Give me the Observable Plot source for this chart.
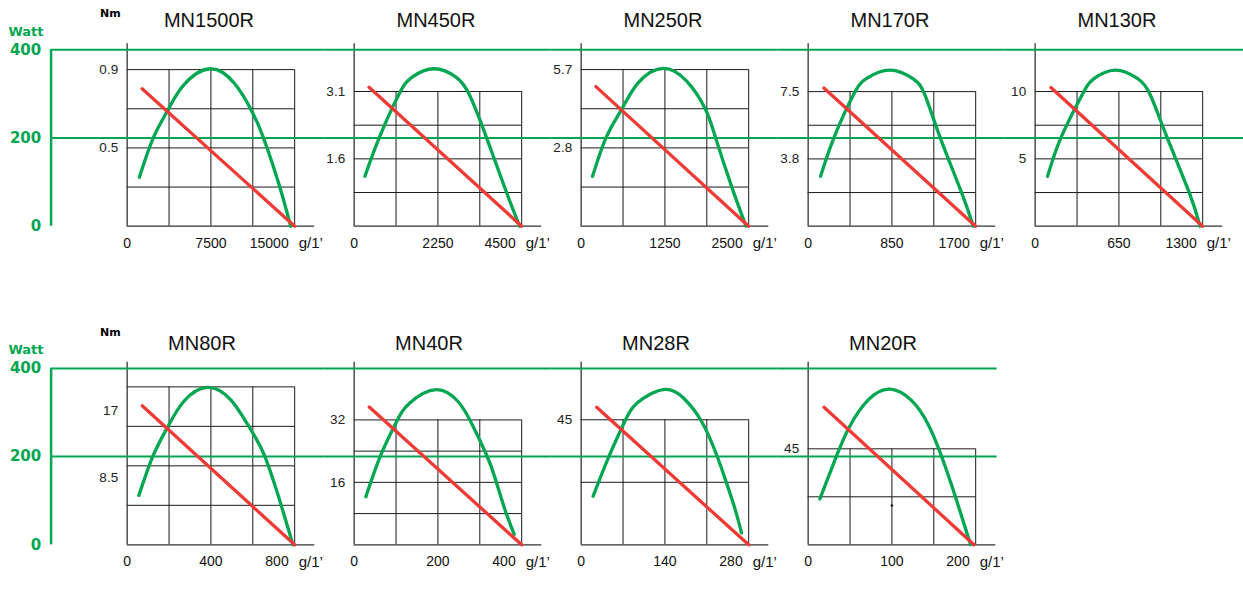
<!DOCTYPE html>
<html><head><meta charset="utf-8">
<script src="https://cdn.jsdelivr.net/npm/d3@7"></script>
<script src="https://cdn.jsdelivr.net/npm/@observablehq/plot@0.6"></script>
<style>
html,body{margin:0;padding:0;background:#fff;overflow:hidden;}
#chart{width:1243px;height:595px;}
</style></head><body><div id="chart"></div>
<script>
// ---------- data ----------
const panelNames = ["MN1500R","MN450R","MN250R","MN170R","MN130R","MN80R","MN40R","MN28R","MN20R"];
const panelRow   = [0,0,0,0,0,1,1,1,1];
const panelCol   = [0,1,2,3,4,0,1,2,3];
const speedMax   = [15000,4500,2500,1700,1300,800,400,280,200];
const speedMid   = [7500,2250,1250,850,650,400,200,140,100];
const speedUnit  = "g/1’";
const wattTicks  = [0,200,400];
// torque (Nm) that lines up with 400 W on each panel's secondary axis
const nmAt400W   = [1.014,4.06,6.42,9.83,13.1,22.34,45.2,63.5,82.7];
const nmGridTop  = [0.9,3.1,5.7,7.5,10,20,32,45,45];
const nmGridRows = [4,4,4,4,4,4,4,2,2];
const nmTickValues = [[0.9,0.45],[3.1,1.55],[5.7,2.85],[7.5,3.75],[10,5],[17,8.5],[32,16],[45],[45]];
const nmTickLabels = [["0.9","0.5"],["3.1","1.6"],["5.7","2.8"],["7.5","3.8"],["10","5"],["17","8.5"],["32","16"],["45"],["45"]];
// torque line: [speed, Nm] at start, speed at zero torque
const torqueStart = [[1340,0.79],[400,3.2],[220,5.08],[160,7.7],[122,10.3],[72,17.6],[36,35.3],[26,49.5],[19,64.5]];
const torqueEndSpeed = [15000,4500,2500,1700,1300,800,400,280,198];
// power curves: [speed, W]
const powerMN1500R = [[1095,111],[2370,202],[3705,266],[5055,320],[7425,357],[9600,324],[11055,266],[12180,202],[13665,89],[14640,0]];
const powerMN450R  = [[288,113],[680,202],[1197,298],[1557,338],[2147,357],[2736,338],[3096,298],[3551,202],[4091,77],[4446,0]];
const powerMN250R  = [[170,113],[375,202],[608,266],[850,325],[1215,358],[1575,329],[1853,266],[2003,202],[2250,88],[2460,0]];
const powerMN170R  = [[126,113],[264,202],[457,297],[593,335],[830,354],[1066,334],[1185,298],[1338,202],[1557,76],[1676,0]];
const powerMN130R  = [[96,113],[202,202],[363,297],[454,334],[621,354],[793,335],[893,298],[1023,202],[1196,76],[1280,0]];
const powerMN80R   = [[56,112],[124,202],[192,266],[272,326],[384,357],[496,328],[584,266],[656,202],[736,89],[792,0]];
const powerMN40R   = [[28,109],[63,202],[100,277],[132,321],[196,352],[248,325],[279,278],[317,202],[337,150],[360,80],[382,24]];
const powerMN28R   = [[20,110],[47,202],[72,277],[94,322],[137,352],[171,333],[202,278],[227,202],[243,140],[257,82],[268,27]];
const powerMN20R   = [[14,104],[34,202],[50,270],[72,329],[97,353],[123,328],[143,274],[159,202],[176,108],[194,0]];
const powerCurves = [powerMN1500R,powerMN450R,powerMN250R,powerMN170R,powerMN130R,powerMN80R,powerMN40R,powerMN28R,powerMN20R];
const strayDot = [{panel: 8, speed: 100, nm: 18.4}];

// ---------- layout constants ----------
const GREEN = "#00a651", RED = "#ef3b36", INK = "#1a1a1a";
const X_DOM = [-0.18, 1.175];
const WATT_AXIS_U = -0.454;
const FONT = "Liberation Sans, Arial, sans-serif";
const BOLD = "DejaVu Sans, sans-serif";

const panels = panelNames.map((name, i) => ({
  i, name, fx: panelCol[i], fy: panelRow[i], max: speedMax[i], k: 400 / nmAt400W[i]
}));
const lastCol = r => d3.max(panels.filter(p => p.fy === r), p => p.fx);

const gridV = [], gridH = [], wattLineRows = [], xTicksMid = [], xTicksEnd = [], xUnit = [], nmTicks = [], redRows = [], greenRows = [];
for (const p of panels) {
  const top = nmGridTop[p.i] * p.k;
  for (const f of [0.25, 0.5, 0.75, 1]) gridV.push({fx: p.fx, fy: p.fy, u: f, top});
  for (let r = 1; r <= nmGridRows[p.i]; r++) gridH.push({fx: p.fx, fy: p.fy, w: top * r / nmGridRows[p.i]});
  for (const w of wattTicks.filter(w => w > 0)) {
    wattLineRows.push({fx: p.fx, fy: p.fy, w,
      x1: p.fx === 0 ? WATT_AXIS_U : X_DOM[0],
      x2: p.fx === lastCol(p.fy) ? (p.fy === 0 ? 1.244 : 1.128) : X_DOM[1]});
  }
  xTicksMid.push({fx: p.fx, fy: p.fy, u: 0, label: "0"});
  xTicksMid.push({fx: p.fx, fy: p.fy, u: speedMid[p.i] / p.max, label: String(speedMid[p.i])});
  xTicksEnd.push({fx: p.fx, fy: p.fy, u: 1, label: String(p.max)});
  xUnit.push({fx: p.fx, fy: p.fy, u: 1, label: speedUnit});
  nmTickValues[p.i].forEach((v, j) => nmTicks.push({fx: p.fx, fy: p.fy, w: v * p.k, label: nmTickLabels[p.i][j]}));
  redRows.push({fx: p.fx, fy: p.fy, id: p.i, u: torqueStart[p.i][0] / p.max, w: torqueStart[p.i][1] * p.k});
  redRows.push({fx: p.fx, fy: p.fy, id: p.i, u: torqueEndSpeed[p.i] / p.max, w: 0});
  for (const [s, w] of powerCurves[p.i]) greenRows.push({fx: p.fx, fy: p.fy, id: p.i, u: s / p.max, w});
}
const firstCol = panels.filter(p => p.fx === 0);
const wattLabelRows = firstCol.flatMap(p => wattTicks.map(w => ({fx: p.fx, fy: p.fy, w})));
const titleRows = panels.map(p => ({fx: p.fx, fy: p.fy, name: p.name, w: p.fy === 0 ? 466 : 456}));
const dotRows = strayDot.map(d => ({fx: panels[d.panel].fx, fy: panels[d.panel].fy, u: d.speed / panels[d.panel].max, w: d.nm * panels[d.panel].k}));

const tickStyle = {fx: "fx", fy: "fy", x: "u", y: () => 0, text: "label", dy: 17, lineAnchor: "middle", fontSize: 14, fill: "#111"};
const titleStyle = {fx: "fx", fy: "fy", x: () => 0.5, y: "w", text: "name", textAnchor: "middle", lineAnchor: "middle", fontSize: 20, fill: "#111"};

const chart = Plot.plot({
  width: 1243, height: 595,
  marginTop: 5.2, marginBottom: 50.7, marginLeft: 96.5, marginRight: 11.5,
  style: {fontFamily: FONT, background: "white", overflow: "visible"},
  x: {domain: X_DOM, axis: null},
  y: {domain: [0, 500], axis: null},
  fx: {domain: [0,1,2,3,4], axis: null, padding: 0, round: false},
  fy: {domain: [0,1], axis: null, paddingInner: 0.3079, paddingOuter: 0, round: false},
  marks: [
    // grid
    Plot.ruleX(gridV, {fx: "fx", fy: "fy", x: "u", y1: 0, y2: "top", stroke: INK, strokeWidth: 1}),
    Plot.ruleY(gridH, {fx: "fx", fy: "fy", y: "w", x1: 0, x2: 1, stroke: INK, strokeWidth: 1}),
    // axes of each panel
    Plot.ruleX(panels, {fx: "fx", fy: "fy", x: () => 0, y1: 0, y2: 414, stroke: "#333", strokeWidth: 1.3}),
    Plot.ruleY(panels, {fx: "fx", fy: "fy", y: () => 0, x1: 0, x2: 1.12, stroke: "#333", strokeWidth: 1.3}),
    // watt reference lines and axis
    Plot.ruleY(wattLineRows, {fx: "fx", fy: "fy", y: "w", x1: "x1", x2: "x2", stroke: GREEN, strokeWidth: 2}),
    Plot.ruleX(firstCol, {fx: "fx", fy: "fy", x: () => WATT_AXIS_U, y1: () => 0, y2: () => 400, stroke: GREEN, strokeWidth: 2.5}),
    Plot.text(wattLabelRows, {fx: "fx", fy: "fy", x: () => WATT_AXIS_U - 0.059, y: "w", text: d => String(d.w), textAnchor: "end", lineAnchor: "middle", fill: GREEN, fontFamily: BOLD, fontWeight: "bold", fontSize: 15}),
    Plot.text(firstCol, {fx: "fx", fy: "fy", x: () => -0.604, y: () => 441, text: () => "Watt", textAnchor: "middle", lineAnchor: "middle", fill: GREEN, fontFamily: BOLD, fontWeight: "bold", fontSize: 13}),
    Plot.text(firstCol, {fx: "fx", fy: "fy", x: () => -0.1, y: () => 482, text: () => "Nm", textAnchor: "middle", lineAnchor: "middle", fill: "#000", fontFamily: BOLD, fontWeight: "bold", fontSize: 11}),
    // power curves
    Plot.line(greenRows, {fx: "fx", fy: "fy", x: "u", y: "w", z: "id", stroke: GREEN, strokeWidth: 3.3, curve: "natural"}),
    // torque lines
    Plot.line(redRows, {fx: "fx", fy: "fy", x: "u", y: "w", z: "id", stroke: RED, strokeWidth: 3.3}),
    Plot.dot(dotRows, {fx: "fx", fy: "fy", x: "u", y: "w", r: 1.3, fill: INK}),
    // texts
    Plot.text(titleRows.filter(d => d.fy === 0), {...titleStyle, dx: -2}),
    Plot.text(titleRows.filter(d => d.fy === 1), {...titleStyle, dx: -9}),
    Plot.text(xTicksMid, {...tickStyle, textAnchor: "middle"}),
    Plot.text(xTicksEnd, {...tickStyle, textAnchor: "end", dx: -6}),
    Plot.text(xUnit, {...tickStyle, textAnchor: "start", dx: 4, fontSize: 15}),
    Plot.text(nmTicks, {fx: "fx", fy: "fy", x: () => 0, y: "w", text: "label", dx: -9, textAnchor: "end", lineAnchor: "middle", fontSize: 13.5, fill: "#222"})
  ]
});
document.getElementById("chart").appendChild(chart);
</script>
</body></html>
